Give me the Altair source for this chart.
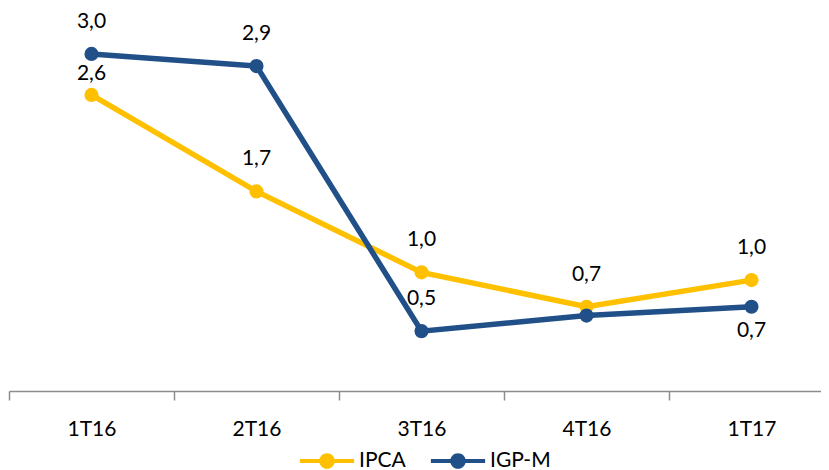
import altair as alt
import pandas as pd

quarters = ["1T16", "2T16", "3T16", "4T16", "1T17"]
ipca = [2.63, 1.76, 1.03, 0.72, 0.96]
igpm = [3.00, 2.89, 0.50, 0.64, 0.72]
ipca_labels = ["2,6", "1,7", "1,0", "0,7", "1,0"]
igpm_labels = ["3,0", "2,9", "0,5", "", "0,7"]
# where the label sits relative to its point
ipca_place = ["near", "above", "above", "above", "above"]
igpm_place = ["above", "above", "above", "none", "below"]

series_names = ["IPCA", "IGP-M"]
colors = ["#FFC000", "#215089"]

rows = []
for i, q in enumerate(quarters):
    rows.append({"q": q, "serie": "IPCA", "v": ipca[i], "lab": ipca_labels[i], "place": ipca_place[i]})
for i, q in enumerate(quarters):
    rows.append({"q": q, "serie": "IGP-M", "v": igpm[i], "lab": igpm_labels[i], "place": igpm_place[i]})
df = pd.DataFrame(rows)

FONT = "Lato"
FS = 21

x = alt.X("q:N", sort=quarters, title=None,
          scale=alt.Scale(paddingInner=0, paddingOuter=0, range=[1, 826]),
          axis=alt.Axis(labelAngle=0, labelFontSize=FS, labelFont=FONT, labelColor="#000",
                        domainColor="#8c8c8c", domainWidth=1.5, tickColor="#8c8c8c", tickWidth=1.5,
                        tickSize=9, tickBand="extent", labelPadding=18))
y = alt.Y("v:Q", scale=alt.Scale(domain=[-0.04, 3.36], nice=False, zero=False), axis=None)
color = alt.Color("serie:N", scale=alt.Scale(domain=series_names, range=colors), title=None,
                  legend=alt.Legend(orient="none", direction="horizontal", legendX=302, legendY=430,
                                    symbolType="M-1.6,-0.12H1.6V0.12H-1.6Z M0.46,0A0.46,0.46 0 1,1 -0.46,0A0.46,0.46 0 1,1 0.46,0Z",
                                    symbolSize=1150, symbolStrokeWidth=0, symbolOpacity=1,
                                    labelFontSize=FS, labelFont=FONT, labelColor="#000",
                                    labelOffset=15, columnPadding=24))

base = alt.Chart(df)

lines = base.mark_line(strokeWidth=5.5).encode(x=x, y=y, color=color)
points = base.mark_point(filled=True, size=200, opacity=1, shape="circle").encode(x=x, y=y, color=color)

def labels(place, dy):
    return base.transform_filter(alt.datum.place == place).mark_text(
        dy=dy, fontSize=FS, font=FONT, color="#000").encode(x=x, y=y, text="lab:N")

chart = alt.layer(
    lines.transform_filter(alt.datum.serie == "IPCA"),
    points.transform_filter(alt.datum.serie == "IPCA"),
    lines.transform_filter(alt.datum.serie == "IGP-M"),
    points.transform_filter(alt.datum.serie == "IGP-M"),
    labels("above", -32), labels("near", -21), labels("below", 24),
).properties(
    width=813, height=377,
    autosize=alt.AutoSizeParams(type="none"),
    padding={"left": 0, "top": 6, "right": 0, "bottom": 79},
).configure_view(stroke=None)

chart.save("out.html", embed_options={"renderer": "svg", "actions": False})
